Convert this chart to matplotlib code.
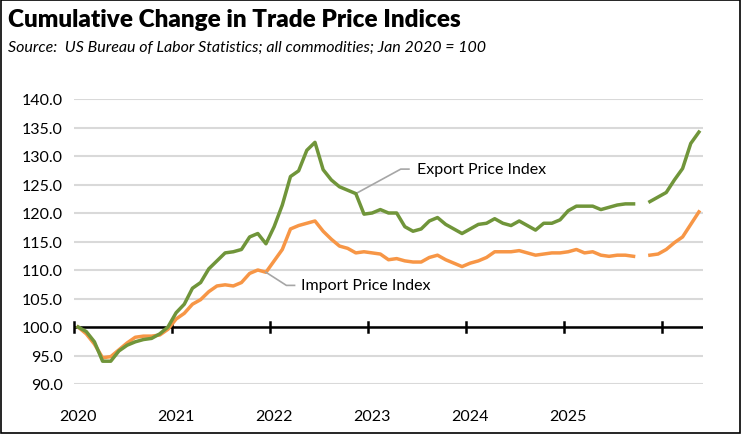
import numpy as np
import matplotlib.pyplot as plt

# monthly, Jan 2020 .. May 2026 (Oct 2025 missing)
export_idx = [100, 99.2, 97.4, 94.0, 94.0, 95.8, 96.8, 97.4, 97.8, 98.0, 98.8, 100.0,
              102.5, 104.0, 106.8, 107.8, 110.2, 111.6, 113.0, 113.2, 113.6, 115.8, 116.4, 114.6,
              117.6, 121.4, 126.4, 127.4, 131.0, 132.4, 127.6, 125.8, 124.6, 124.0, 123.4, 119.8,
              120.0, 120.6, 120.0, 120.0, 117.6, 116.8, 117.2, 118.6, 119.2, 118.0, 117.2, 116.4,
              117.2, 118.0, 118.2, 119.0, 118.2, 117.8, 118.6, 117.8, 117.0, 118.2, 118.2, 118.8,
              120.4, 121.2, 121.2, 121.2, 120.6, 121.0, 121.4, 121.6, 121.6, np.nan, 122.0, 122.8,
              123.6, 125.8, 127.8, 132.2, 134.2]
import_idx = [100, 98.8, 97.0, 94.6, 94.8, 96.0, 97.2, 98.2, 98.4, 98.4, 98.6, 99.6,
              101.4, 102.4, 104.0, 104.8, 106.2, 107.2, 107.4, 107.2, 107.8, 109.4, 110.0, 109.6,
              111.6, 113.6, 117.2, 117.8, 118.2, 118.6, 116.8, 115.4, 114.2, 113.8, 113.0, 113.2,
              113.0, 112.8, 111.8, 112.0, 111.6, 111.4, 111.4, 112.2, 112.6, 111.8, 111.2, 110.6,
              111.2, 111.6, 112.2, 113.2, 113.2, 113.2, 113.4, 113.0, 112.6, 112.8, 113.0, 113.0,
              113.2, 113.6, 113.0, 113.2, 112.6, 112.4, 112.6, 112.6, 112.4, np.nan, 112.6, 112.8,
              113.6, 114.8, 115.8, 118.0, 120.2]
years = ['2020', '2021', '2022', '2023', '2024', '2025']

plt.rcParams['font.family'] = ['Lato', 'DejaVu Sans']
fig = plt.figure(figsize=(7.41, 4.35), dpi=100)
ax = fig.add_axes([74/741, 50/435, 629/741, 285/435])
x = np.arange(len(export_idx)) + 0.5

for v in np.arange(90, 141, 5):
    ax.axhline(v, color='#d9d9d9', lw=1.5, zorder=0)
ax.axhline(100, color='black', lw=1.8, zorder=1)
for k in range(0, 78, 12):
    ax.plot([k, k], [99.1, 100.9], color='black', lw=1.8, zorder=1, clip_on=False)

ax.plot(x, export_idx, color='#70953a', lw=2.5, zorder=3)
ax.plot(x, import_idx, color='#f79646', lw=2.5, zorder=2)

ax.plot([34.5, 40, 41], [123.4, 127.7, 127.7], color='#a6a6a6', lw=1.2)
ax.text(42, 127.7, 'Export Price Index', fontsize=11.5, va='center')
ax.plot([23.5, 26, 27], [109.6, 107.3, 107.3], color='#a6a6a6', lw=1.2)
ax.text(27.8, 107.3, 'Import Price Index', fontsize=11.5, va='center')

ax.set_xlim(0, 77)
ax.set_ylim(90, 140)
ax.set_yticks(np.arange(90, 141, 5))
ax.set_yticklabels([f'{v:.1f}' for v in np.arange(90, 141, 5)], fontsize=11.5)
ax.set_xticks(np.arange(0, 72, 12) + 0.5)
ax.set_xticklabels(years, fontsize=11.5)
ax.tick_params(length=0, pad=8)
ax.tick_params(axis='x', pad=18)
for s in ax.spines.values():
    s.set_visible(False)

fig.text(8/741, 1 - 20/435, 'Cumulative Change in Trade Price Indices', fontsize=17.5,
         fontweight='heavy', va='center')
fig.text(8/741, 1 - 48/435, 'Source:  US Bureau of Labor Statistics; all commodities; Jan 2020 = 100',
         fontsize=11.5, style='italic', va='center')
fig.patches.append(plt.Rectangle((0.001, 0.002), 0.997, 0.996, transform=fig.transFigure,
                                 fill=False, ec='black', lw=1.2))
fig.savefig('out.png', dpi=100)
